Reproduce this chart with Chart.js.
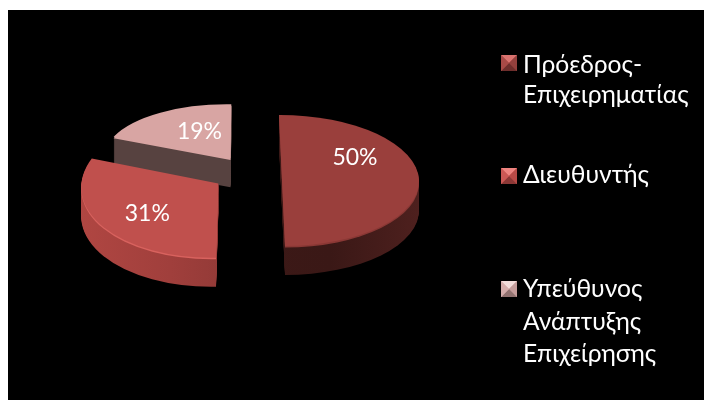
<!DOCTYPE html>
<html lang="el">
<head>
<meta charset="utf-8">
<title>Θέσεις στελεχών</title>
<style>
  html, body { margin: 0; padding: 0; background: #fff; }
  #wrap { width: 704px; height: 400px; }
  canvas { display: block; }
</style>
<script src="https://cdn.jsdelivr.net/npm/chart.js@4/dist/chart.umd.js"></script>
</head>
<body>
<div id="wrap"><canvas id="pie" width="704" height="400"></canvas></div>
<script>
// Chart values
const categories = [
  ['Πρόεδρος-', 'Επιχειρηματίας'],
  ['Διευθυντής'],
  ['Υπεύθυνος', 'Ανάπτυξης', 'Επιχείρησης']
];
const shares = [50, 31, 19];

// Slice colours: top face, rim highlight, side wall stops
const topColors = ['#9a3f3c', '#c0504d', '#d8a5a3'];
const rimColors = ['#8a3835', '#d8625e', '#d8a5a3'];
const wallStops = [
  ['#6a2725', '#3d1917', '#3a1816', '#4e201e'],
  ['#b04642', '#a03f3c', '#8a3734', '#702c2a'],
  ['#574240', '#574240', '#574240', '#574240']
];

// Tilted-pie projection of each exploded slice: where its centre lands, the
// on-screen half-axes of its disc, and the small skew of those axes
const slicePoses = [
  { cx: 282, cy: 180.5, ax: 137, ay: -0.5, bx: 3, by: 65.5 },
  { cx: 218.3, cy: 183.5, ax: 137, ay: -2.5, bx: -2.3, by: 74.2 },
  { cx: 230.5, cy: 158.3, ax: 126, ay: 1.8, bx: -0.8, by: 54 }
];
const wallDepth = [29, 29, 29];
const paintOrder = [2, 1, 0];

// Percent labels, placed relative to each slice centre
const labelOffsets = [[73, -23], [-71, 30], [-31, -27]];
const labelFont = '23px Lato, "Open Sans", sans-serif';

// Legend rows
const legendFont = '24.6px Lato, "Open Sans", sans-serif';
const legendMarkerX = 501;
const legendTextX = 523;
const legendMarkerY = [55, 168, 281];
const legendBaselines = [[73, 103], [183], [297, 330, 362]];
const markerFaces = [
  ['#d9736f', '#a84a47', '#93403d', '#6e2e2c'],
  ['#ee8480', '#cc5855', '#b84a47', '#8c3836'],
  ['#f2dcda', '#d5adab', '#c49c9a', '#927270']
];

const PANEL = { x: 8, y: 10 };

// Pose transform: maps an arc element from its own layout onto the tilted plane
function applyPose(ctx, el, pose, dy) {
  const r = el.outerRadius;
  ctx.translate(pose.cx, pose.cy + dy);
  ctx.transform(pose.ax / r, pose.ay / r, pose.bx / r, pose.by / r, 0, 0);
  ctx.translate(-el.x, -el.y);
}

function drawArcWith(ctx, el, fill) {
  const saved = el.options;
  el.options = Object.assign({}, saved, { backgroundColor: fill, borderWidth: 0 });
  el.draw(ctx);
  el.options = saved;
}

const tiltedPie = {
  id: 'tiltedPie',
  beforeDraw(chart) {
    const { ctx, width, height } = chart;
    ctx.save();
    ctx.fillStyle = '#fff';
    ctx.fillRect(0, 0, width, height);
    ctx.fillStyle = '#000';
    ctx.fillRect(PANEL.x, PANEL.y, width - PANEL.x, height - PANEL.y);
    ctx.restore();
  },
  // Replaces the flat slice painting with extruded slices
  beforeDatasetDraw(chart) {
    const { ctx } = chart;
    const arcs = chart.getDatasetMeta(0).data;
    paintOrder.forEach(i => {
      const el = arcs[i];
      const pose = slicePoses[i];
      // side wall, built from the bottom up
      for (let dy = wallDepth[i]; dy >= 1; dy--) {
        ctx.save();
        applyPose(ctx, el, pose, dy);
        const g = ctx.createLinearGradient(el.x - el.outerRadius, 0, el.x + el.outerRadius, 0);
        wallStops[i].forEach((c, k) => g.addColorStop(k / (wallStops[i].length - 1), c));
        drawArcWith(ctx, el, g);
        ctx.restore();
      }
      // rim highlight and top face
      ctx.save();
      applyPose(ctx, el, pose, 1.6);
      drawArcWith(ctx, el, rimColors[i]);
      ctx.restore();
      ctx.save();
      applyPose(ctx, el, pose, 0);
      drawArcWith(ctx, el, topColors[i]);
      ctx.restore();
    });
    return false;
  },
  afterDraw(chart) {
    const { ctx } = chart;
    const values = chart.data.datasets[0].data;
    const total = values.reduce((a, b) => a + b, 0);
    ctx.save();
    ctx.fillStyle = '#fff';
    ctx.font = labelFont;
    ctx.textAlign = 'center';
    ctx.textBaseline = 'middle';
    values.forEach((v, i) => {
      const text = Math.round(v / total * 100) + '%';
      ctx.fillText(text, slicePoses[i].cx + labelOffsets[i][0], slicePoses[i].cy + labelOffsets[i][1]);
    });

    // Legend with pyramid-shaded markers
    const s = 16;
    categories.forEach((lines, i) => {
      const x = legendMarkerX, y = legendMarkerY[i];
      const mx = x + s / 2, my = y + s / 2;
      const corners = [[x, y], [x + s, y], [x + s, y + s], [x, y + s]];
      // base square keeps the diagonal seams between the faces closed
      ctx.fillStyle = markerFaces[i][1];
      ctx.fillRect(x, y, s, s);
      // faces in order: top, right, bottom, left
      [[0, 1, 0], [1, 2, 2], [2, 3, 3], [3, 0, 1]].forEach(([a, b, f]) => {
        ctx.beginPath();
        ctx.moveTo(corners[a][0], corners[a][1]);
        ctx.lineTo(corners[b][0], corners[b][1]);
        ctx.lineTo(mx, my);
        ctx.closePath();
        ctx.fillStyle = markerFaces[i][f];
        ctx.fill();
      });
      ctx.fillStyle = '#fff';
      ctx.font = legendFont;
      ctx.textAlign = 'left';
      ctx.textBaseline = 'alphabetic';
      lines.forEach((line, k) => ctx.fillText(line, legendTextX, legendBaselines[i][k]));
    });
    ctx.restore();
  }
};

new Chart(document.getElementById('pie'), {
  type: 'pie',
  data: {
    labels: categories,
    datasets: [{
      data: shares,
      backgroundColor: topColors,
      borderWidth: 0
    }]
  },
  options: {
    responsive: false,
    animation: false,
    layout: { padding: { left: 60, right: 300, top: 60, bottom: 60 } },
    plugins: {
      legend: { display: false },
      tooltip: { enabled: false }
    }
  },
  plugins: [tiltedPie]
});
</script>
</body>
</html>
